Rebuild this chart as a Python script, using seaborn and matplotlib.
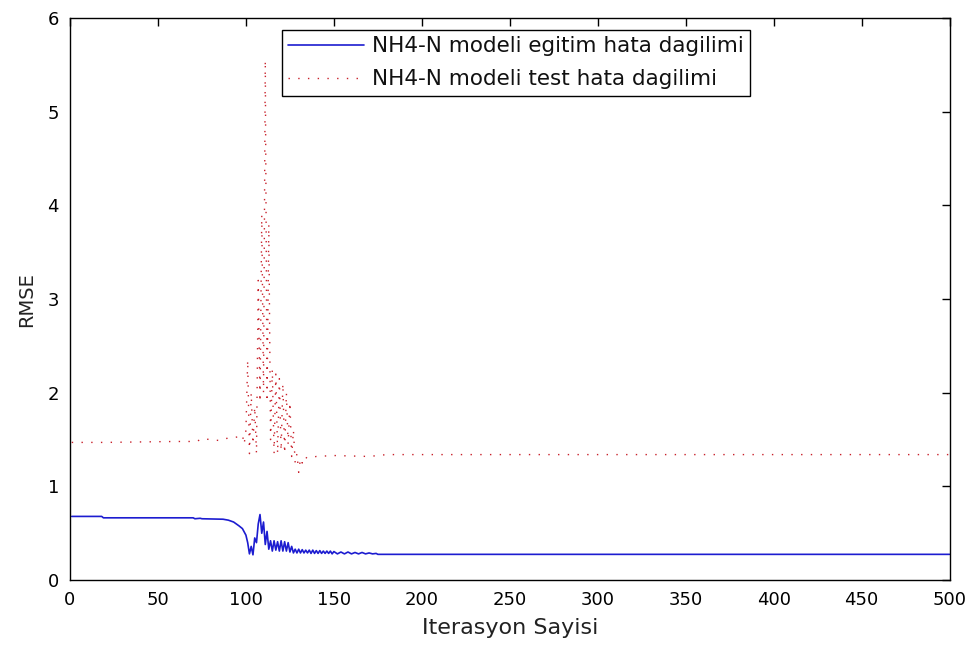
import matplotlib
matplotlib.use("Agg")
import matplotlib.pyplot as plt
import seaborn as sns
import pandas as pd

# Training-error curve (iteration, RMSE)
train_iter = [1, 18, 19, 70, 71, 74, 75, 87, 90, 93, 96, 98, 100, 101, 102, 103, 104,
              105, 106, 107, 108, 109, 110, 111, 112, 113, 114, 115, 116, 117, 118,
              119, 120, 121, 122, 123, 124, 125, 126, 127, 128, 129, 130, 131, 132,
              133, 134, 135, 136, 137, 138, 139, 140, 141, 142, 143, 144, 145, 146,
              147, 148, 149, 150, 152, 154, 156, 158, 160, 162, 164, 166, 168, 170,
              172, 174, 175, 500]
train_rmse = [0.68, 0.68, 0.665, 0.665, 0.655, 0.66, 0.655, 0.65, 0.64, 0.62, 0.58,
              0.55, 0.48, 0.40, 0.28, 0.36, 0.27, 0.45, 0.40, 0.60, 0.70, 0.50, 0.62,
              0.38, 0.52, 0.33, 0.42, 0.31, 0.42, 0.32, 0.41, 0.31, 0.42, 0.31, 0.41,
              0.31, 0.40, 0.30, 0.36, 0.29, 0.33, 0.29, 0.33, 0.29, 0.325, 0.29, 0.32,
              0.29, 0.32, 0.285, 0.32, 0.285, 0.315, 0.285, 0.315, 0.285, 0.31, 0.285,
              0.31, 0.285, 0.31, 0.28, 0.305, 0.28, 0.30, 0.28, 0.30, 0.28, 0.295,
              0.28, 0.295, 0.28, 0.29, 0.28, 0.285, 0.275, 0.275]

# Test-error curve (iteration, RMSE)
test_iter = [1, 20, 60, 72, 75, 80, 85, 88, 92, 96, 98, 99, 100, 101, 102, 103, 104,
             105, 106, 107, 108, 109, 110, 111, 112, 113, 114, 115, 116, 117, 118,
             119, 120, 121, 122, 123, 124, 125, 126, 127, 128, 129, 130, 131, 132,
             133, 135, 140, 150, 170, 180, 500]
test_rmse = [1.47, 1.47, 1.48, 1.48, 1.51, 1.50, 1.49, 1.51, 1.52, 1.53, 1.55, 1.45,
             1.60, 2.35, 1.35, 2.00, 1.45, 1.85, 1.35, 3.20, 1.90, 3.90, 2.00, 5.55,
             1.90, 3.80, 1.50, 2.25, 1.35, 2.20, 1.35, 2.15, 1.38, 2.10, 1.35, 2.00,
             1.45, 1.90, 1.32, 1.60, 1.25, 1.35, 1.15, 1.30, 1.25, 1.32, 1.30, 1.32,
             1.33, 1.32, 1.34, 1.34]

train_label = "NH4-N modeli egitim hata dagilimi"
test_label = "NH4-N modeli test hata dagilimi"
x_ticks = [0, 50, 100, 150, 200, 250, 300, 350, 400, 450, 500]
y_ticks = [0, 1, 2, 3, 4, 5, 6]

sns.set_theme(style="white")
plt.rcParams["font.family"] = ["DejaVu Sans"]

train_df = pd.DataFrame({"iter": train_iter, "rmse": train_rmse})
test_df = pd.DataFrame({"iter": test_iter, "rmse": test_rmse})

fig = plt.figure(figsize=(9.79, 6.46), dpi=100)
ax = fig.add_axes([0.0715, 0.102, 0.8985, 0.870])

sns.lineplot(data=train_df, x="iter", y="rmse", ax=ax, color="#1c1cd0",
             linewidth=1.2, label=train_label, estimator=None, sort=False)
sns.lineplot(data=test_df, x="iter", y="rmse", ax=ax, color="#c8202a",
             linewidth=1.0, label=test_label, estimator=None, sort=False,
             dashes=False)
ax.lines[1].set_dashes([1, 6])

ax.set_xlim(0, 500)
ax.set_ylim(0, 6)
ax.set_xticks(x_ticks)
ax.set_yticks(y_ticks)
ax.tick_params(direction="in", length=6, width=1, top=True, right=True,
               labelsize=13, colors="black")
ax.tick_params(axis="x", pad=8)
ax.tick_params(axis="y", pad=8)
for s in ax.spines.values():
    s.set_color("black")
    s.set_linewidth(1.0)

ax.set_xlabel("Iterasyon Sayisi", fontsize=16, labelpad=6, color="#222222")
ax.set_ylabel("RMSE", fontsize=14, labelpad=8, color="#222222")

leg = ax.legend(loc="upper left", bbox_to_anchor=(0.241, 0.979), fontsize=15.5,
                frameon=True, fancybox=False, edgecolor="black", framealpha=1,
                handlelength=3.5, handletextpad=0.36, borderpad=0.3,
                labelspacing=0.6, borderaxespad=0)
leg.get_frame().set_linewidth(1.0)
for t in leg.get_texts():
    t.set_color("#111111")

fig.savefig("out.png", dpi=100)
